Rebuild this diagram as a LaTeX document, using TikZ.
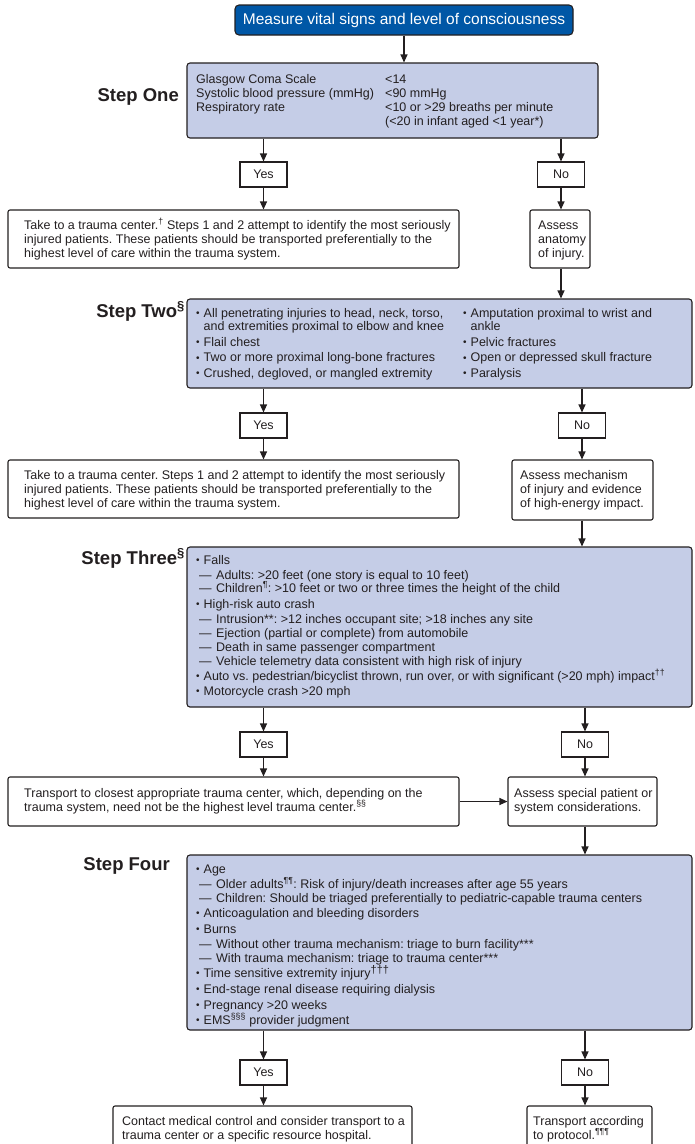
\documentclass[tikz,border=0pt]{standalone}
\usepackage{fontspec}
\setmainfont{Liberation Sans}
\usetikzlibrary{arrows.meta}
\definecolor{titleblue}{RGB}{0,87,166}
\definecolor{stepfill}{RGB}{197,205,231}
\definecolor{ink}{RGB}{35,31,32}
\frenchspacing
\newcommand\myfs[1]{\fontsize{#1}{#1}\selectfont}
\newcommand\bul{\makebox[7.5pt][l]{\raisebox{0.4pt}{\myfs{10}•}}}
\newcommand\cnt{\hspace*{7.5pt}}
\newcommand\dsh{\hspace*{3pt}—\hspace*{4.5pt}}
\newcommand\boxat[6]{\node[#2, minimum width={#5pt-#3pt}, minimum height={#6pt-#4pt}] (#1) at ({(#3+#5)/2},{(#4+#6)/2}) {};}
\begin{document}
\begin{tikzpicture}[x=1pt,y=-1pt,
  box/.style={draw=ink, line width=1.1pt, inner sep=0pt, rounded corners=2pt},
  stepbox/.style={box, fill=stepfill, rounded corners=3pt},
  resbox/.style={box, fill=white},
  yn/.style={box, fill=white, rounded corners=0pt, minimum width=47pt, minimum height=25pt, font=\myfs{12.5}, text=ink},
  txt/.style={anchor=base west, inner sep=0pt, font=\myfs{12.5}, text=ink},
  lbl/.style={anchor=base east, inner sep=0pt, font=\bfseries\myfs{18.5}, text=ink},
  arr/.style={-{Triangle[length=8pt,width=7pt]}, line width=1.1pt, draw=ink}]
\useasboundingbox (0,0) rectangle (695,1144);
\clip (0,0) rectangle (695,1144);
\fill[white] (0,0) rectangle (695,1144);

% ---------- boxes ----------
\node[box, fill=titleblue, rounded corners=4pt, minimum width=338pt, minimum height=30pt, text=white, font=\myfs{15.5}] (title) at (404,20) {Measure vital signs and level of consciousness};

\boxat{s1}{stepbox}{187}{63}{598}{138}
\node[yn] (y1) at (263.5,174.5) {Yes};
\node[yn] (n1) at (561,174.5) {No};
\boxat{r1y}{resbox}{8}{210}{459}{268}
\boxat{r1n}{resbox}{530}{210}{590}{268}

\boxat{s2}{stepbox}{187}{299}{692}{388}
\node[yn] (y2) at (263.5,425.5) {Yes};
\node[yn] (n2) at (582,425.5) {No};
\boxat{r2y}{resbox}{8}{460}{459}{518}
\boxat{r2n}{resbox}{512}{460}{653}{520}

\boxat{s3}{stepbox}{187}{547}{692}{707}
\node[yn] (y3) at (263.5,744.5) {Yes};
\node[yn] (n3) at (585,744.5) {No};
\boxat{r3y}{resbox}{8}{777}{459}{826}
\boxat{r3n}{resbox}{508}{777}{657}{826}

\boxat{s4}{stepbox}{187}{855}{692}{1030}
\node[yn] (y4) at (263.5,1072.5) {Yes};
\node[yn] (n4) at (585,1072.5) {No};
\boxat{r4y}{resbox}{113}{1106}{412}{1170}
\boxat{r4n}{resbox}{527}{1106}{652}{1170}

% ---------- connectors ----------
\draw[arr] (title.south) -- (title.south |- s1.north);
\draw[arr] (y1.north |- s1.south) -- (y1.north);
\draw[arr] (n1.north |- s1.south) -- (n1.north);
\draw[arr] (y1.south) -- (y1.south |- r1y.north);
\draw[arr] (n1.south) -- (n1.south |- r1n.north);
\draw[arr] (n1.south |- r1n.south) -- (n1.south |- s2.north);

\draw[arr] (y2.north |- s2.south) -- (y2.north);
\draw[arr] (n2.north |- s2.south) -- (n2.north);
\draw[arr] (y2.south) -- (y2.south |- r2y.north);
\draw[arr] (n2.south) -- (n2.south |- r2n.north);
\draw[arr] (n2.south |- r2n.south) -- (n2.south |- s3.north);

\draw[arr] (y3.north |- s3.south) -- (y3.north);
\draw[arr] (n3.north |- s3.south) -- (n3.north);
\draw[arr] (y3.south) -- (y3.south |- r3y.north);
\draw[arr] (n3.south) -- (n3.south |- r3n.north);
\draw[arr] (r3y.east) -- (r3y.east -| r3n.west);
\draw[arr] (n3.south |- r3n.south) -- (n3.south |- s4.north);

\draw[arr] (y4.north |- s4.south) -- (y4.north);
\draw[arr] (n4.north |- s4.south) -- (n4.north);
\draw[arr] (y4.south) -- (y4.south |- r4y.north);
\draw[arr] (n4.south) -- (n4.south |- r4n.north);

% ---------- step labels ----------
\node[lbl] (l1) at (179,101) {Step One};
\node[lbl] (l2) at (185,317) {Step Two\textsuperscript{§}};
\node[lbl] (l3) at (185,564) {Step Three\textsuperscript{§}};
\node[lbl] (l4) at (170,870) {Step Four};

% ---------- step one text ----------
\node[txt] (s1a) at (196,83) {Glasgow Coma Scale};
\node[txt] (s1b) at (196,97) {Systolic blood pressure (mmHg)};
\node[txt] (s1c) at (196,111) {Respiratory rate};
\node[txt] (s1d) at (385,83) {<14};
\node[txt] (s1e) at (385,97) {<90 mmHg};
\node[txt] (s1f) at (385,111) {<10 or >29 breaths per minute};
\node[txt] (s1g) at (385,125) {(<20 in infant aged <1 year*)};

\node[txt] (r1ya) at (24,229) {Take to a trauma center.\textsuperscript{†} Steps 1 and 2 attempt to identify the most seriously};
\node[txt] (r1yb) at (24,243) {injured patients. These patients should be transported preferentially to the};
\node[txt] (r1yc) at (24,257) {highest level of care within the trauma system.};
\node[txt] (r1na) at (538,229) {Assess};
\node[txt] (r1nb) at (538,243) {anatomy};
\node[txt] (r1nc) at (538,257) {of injury.};

% ---------- step two text ----------
\node[txt] (s2a) at (196,317) {\bul All penetrating injuries to head, neck, torso,};
\node[txt] (s2b) at (196,330.5) {\cnt and extremities proximal to elbow and knee};
\node[txt] (s2c) at (196,346) {\bul Flail chest};
\node[txt] (s2d) at (196,361.5) {\bul Two or more proximal long-bone fractures};
\node[txt] (s2e) at (196,377) {\bul Crushed, degloved, or mangled extremity};
\node[txt] (s2f) at (463,317) {\bul Amputation proximal to wrist and};
\node[txt] (s2g) at (463,330.5) {\cnt ankle};
\node[txt] (s2h) at (463,346) {\bul Pelvic fractures};
\node[txt] (s2i) at (463,361.5) {\bul Open or depressed skull fracture};
\node[txt] (s2j) at (463,377) {\bul Paralysis};

\node[txt] (r2ya) at (24,479) {Take to a trauma center. Steps 1 and 2 attempt to identify the most seriously};
\node[txt] (r2yb) at (24,493) {injured patients. These patients should be transported preferentially to the};
\node[txt] (r2yc) at (24,507) {highest level of care within the trauma system.};
\node[txt] (r2na) at (520,479) {Assess mechanism};
\node[txt] (r2nb) at (520,493) {of injury and evidence};
\node[txt] (r2nc) at (520,507) {of high-energy impact.};

% ---------- step three text ----------
\node[txt] (s3a) at (196,564) {\bul Falls};
\node[txt] (s3b) at (196,579) {\dsh Adults: >20 feet (one story is equal to 10 feet)};
\node[txt] (s3c) at (196,592) {\dsh Children\textsuperscript{¶}: >10 feet or two or three times the height of the child};
\node[txt] (s3d) at (196,608) {\bul High-risk auto crash};
\node[txt] (s3e) at (196,623) {\dsh Intrusion**: >12 inches occupant site; >18 inches any site};
\node[txt] (s3f) at (196,637) {\dsh Ejection (partial or complete) from automobile};
\node[txt] (s3g) at (196,651) {\dsh Death in same passenger compartment};
\node[txt] (s3h) at (196,665) {\dsh Vehicle telemetry data consistent with high risk of injury};
\node[txt] (s3i) at (196,680) {\bul Auto vs. pedestrian/bicyclist thrown, run over, or with significant (>20 mph) impact\textsuperscript{††}};
\node[txt] (s3j) at (196,695) {\bul Motorcycle crash >20 mph};

\node[txt] (r3ya) at (24,797) {Transport to closest appropriate trauma center, which, depending on the};
\node[txt] (r3yb) at (24,811) {trauma system, need not be the highest level trauma center.\textsuperscript{§§}};
\node[txt] (r3na) at (514,797) {Assess special patient or};
\node[txt] (r3nb) at (514,811) {system considerations.};

% ---------- step four text ----------
\node[txt] (s4a) at (196,873) {\bul Age};
\node[txt] (s4b) at (196,888) {\dsh Older adults\textsuperscript{¶¶}: Risk of injury/death increases after age 55 years};
\node[txt] (s4c) at (196,902) {\dsh Children: Should be triaged preferentially to pediatric-capable trauma centers};
\node[txt] (s4d) at (196,917) {\bul Anticoagulation and bleeding disorders};
\node[txt] (s4e) at (196,933) {\bul Burns};
\node[txt] (s4f) at (196,948) {\dsh Without other trauma mechanism: triage to burn facility***};
\node[txt] (s4g) at (196,962) {\dsh With trauma mechanism: triage to trauma center***};
\node[txt] (s4h) at (196,977) {\bul Time sensitive extremity injury\raisebox{4pt}{\myfs{11}†††}};
\node[txt] (s4i) at (196,993) {\bul End-stage renal disease requiring dialysis};
\node[txt] (s4j) at (196,1009) {\bul Pregnancy >20 weeks};
\node[txt] (s4k) at (196,1024) {\bul EMS\textsuperscript{§§§} provider judgment};

\node[txt] (r4ya) at (122,1125) {Contact medical control and consider transport to a};
\node[txt] (r4yb) at (122,1139) {trauma center or a specific resource hospital.};
\node[txt] (r4na) at (533,1125) {Transport according};
\node[txt] (r4nb) at (533,1139) {to protocol.\textsuperscript{¶¶¶}};
\end{tikzpicture}
\end{document}
